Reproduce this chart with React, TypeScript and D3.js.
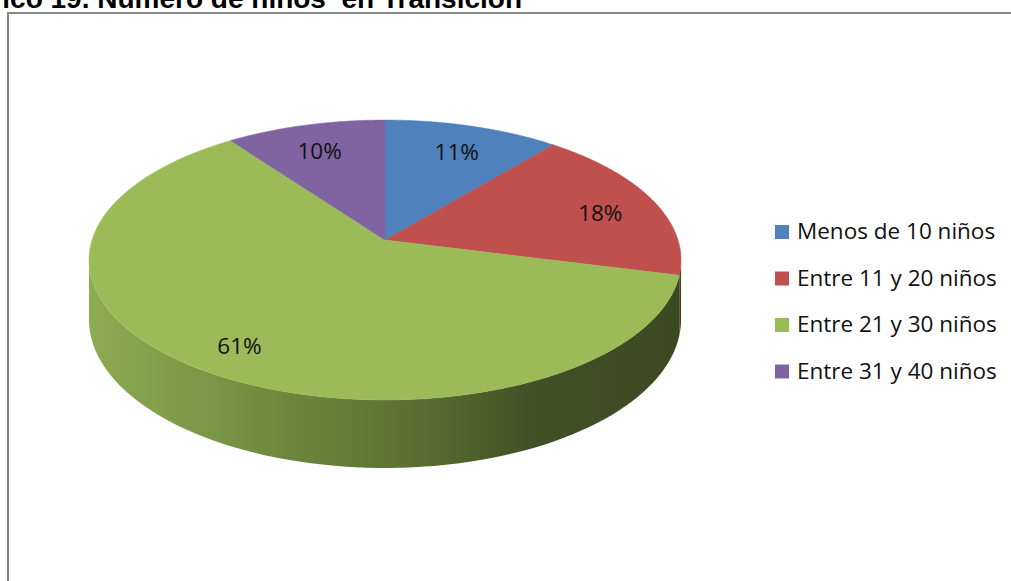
import React from "react";
import * as d3 from "d3";

const categories = ["Menos de 10 niños", "Entre 11 y 20 niños", "Entre 21 y 30 niños", "Entre 31 y 40 niños"];
const values = [11, 18, 61, 10];
const colors = ["#4f81bd", "#c0504d", "#9bbb59", "#8064a2"];
const sideColors = ["#2f4d71", "#4f3a22", "#5d7035", "#4d3c61"];
const titleText = "Gráfico 19. Número de niños  en Transición";

const W = 1011;
const H = 581;
// projection parameters of the tilted disk
const CX = 385, CY = 240, A = 293, B = 137.1, P = 1 / 7, T = 58.3;

function proj(theta: number, r: number, h: number): [number, number] {
  const u = -Math.cos(theta) * r;
  const v = Math.sin(theta) * r;
  const d = 1 - P * u;
  return [CX + (A * v) / d, CY + (B * u + T * h) / d];
}

function arcPts(a0: number, a1: number, h: number, n = 80): [number, number][] {
  const pts: [number, number][] = [];
  for (let i = 0; i <= n; i++) pts.push(proj(a0 + ((a1 - a0) * i) / n, 1, h));
  return pts;
}

export default function App() {
  const pie = d3.pie<number>().sort(null).value((d) => d)(values);
  const visA = Math.PI - Math.acos(P); // right silhouette
  const visB = Math.PI + Math.acos(P); // left silhouette
  const line = d3.line();

  const sides = pie
    .map((s, i) => {
      const a0 = Math.max(s.startAngle, visA);
      const a1 = Math.min(s.endAngle, visB);
      if (a1 <= a0) return null;
      const top = arcPts(a0, a1, 0);
      const bot = arcPts(a0, a1, 1).reverse();
      return { i, d: line([...top, ...bot])! + "Z" };
    })
    .filter(Boolean) as { i: number; d: string }[];

  const tops = pie.map((s, i) => {
    const pts = [proj(0, 0, 0), ...arcPts(s.startAngle, s.endAngle, 0)];
    return { i, d: line(pts)! + "Z" };
  });

  const labels = pie.map((s, i) => {
    const mid = (s.startAngle + s.endAngle) / 2;
    const [x, y] = proj(mid, 0.8, 0);
    return { i, x, y: y + 5, text: `${values[i]}%` };
  });

  const legendX = 775;
  const legendY0 = 239;
  const legendStep = 46.5;

  return (
    <svg width={W} height={H} style={{ position: "absolute", left: 0, top: 0, background: "#fff" }}>
      <defs>
        <linearGradient id="sideGrad" gradientUnits="userSpaceOnUse" x1={90} y1={0} x2={682} y2={0}>
          <stop offset="0" stopColor="#8dab52" />
          <stop offset="0.2" stopColor="#7a9646" />
          <stop offset="0.4" stopColor="#67803a" />
          <stop offset="0.58" stopColor="#566c2f" />
          <stop offset="0.74" stopColor="#415226" />
          <stop offset="1" stopColor="#3b4921" />
        </linearGradient>
      </defs>
      <rect width={W} height={H} fill="#fff" />
      <text
        x={522}
        y={7.5}
        textAnchor="end"
        fontFamily="'Liberation Sans', Arial, sans-serif"
        fontWeight="bold"
        fontSize={28}
        fill="#000"
        style={{ whiteSpace: "pre" }}
      >
        {titleText}
      </text>
      <rect x={8} y={13} width={W + 20} height={H + 20} fill="none" stroke="#878787" strokeWidth={2} />
      {sides.map((s) => (
        <path key={"s" + s.i} d={s.d} fill={s.i === 2 ? "url(#sideGrad)" : sideColors[s.i]} />
      ))}
      {tops.map((t) => (
        <path key={"t" + t.i} d={t.d} fill={colors[t.i]} stroke={colors[t.i]} strokeWidth={0.5} />
      ))}
      {labels.map((l) => (
        <text
          key={"l" + l.i}
          x={l.x}
          y={l.y}
          textAnchor="middle"
          dominantBaseline="central"
          fontFamily="'Open Sans', sans-serif"
          fontSize={22.5}
          fill="#111"
        >
          {l.text}
        </text>
      ))}
      {categories.map((c, i) => (
        <g key={"g" + i} transform={`translate(${legendX},${legendY0 + i * legendStep})`}>
          <rect x={0} y={-14} width={14} height={14} fill={colors[i]} />
          <text x={22} y={0} fontFamily="'Open Sans', sans-serif" fontSize={22.5} fill="#111">
            {c}
          </text>
        </g>
      ))}
    </svg>
  );
}
